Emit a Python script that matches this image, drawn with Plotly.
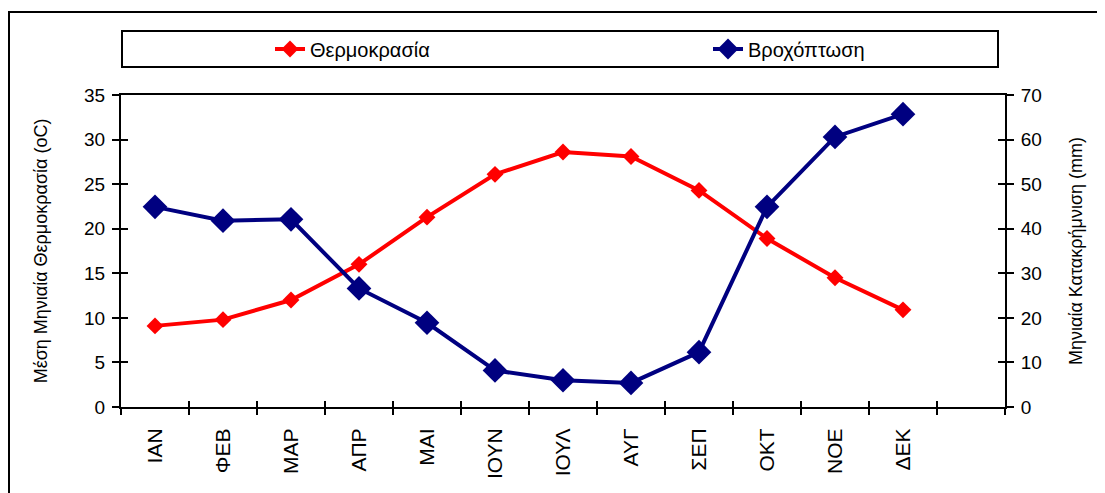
import plotly.graph_objects as go

months = ["ΙΑΝ", "ΦΕΒ", "ΜΑΡ", "ΑΠΡ", "ΜΑΙ", "ΙΟΥΝ", "ΙΟΥΛ", "ΑΥΓ", "ΣΕΠ", "ΟΚΤ", "ΝΟΕ", "ΔΕΚ"]
temperature = [9.1, 9.8, 12.0, 16.0, 21.3, 26.1, 28.6, 28.1, 24.3, 18.9, 14.5, 10.9]
rainfall = [44.9, 41.8, 42.1, 26.6, 18.9, 8.2, 6.0, 5.4, 12.3, 44.9, 60.6, 65.7]
temp_ticks = [0, 5, 10, 15, 20, 25, 30, 35]
rain_ticks = [0, 10, 20, 30, 40, 50, 60, 70]

FONT = "Liberation Sans, Arial, sans-serif"
# the page body adds an 8px offset, so positions below are screen px minus 8
OFF = 8
L, T = 121 - OFF, 95 - OFF
PW, PH = 884, 312
R, B = 1105 - L - PW, 493 - T - PH


def px_x(p):
    return (p - OFF - L) / PW


def px_y(p):
    return 1 + (T - (p - OFF)) / PH


x_idx = list(range(len(months)))
x_range = [-0.5, len(months) + 0.5]
boundaries = [i - 0.5 for i in range(len(months) + 2)]

fig = go.Figure()
fig.add_trace(go.Scatter(
    x=x_idx, y=temperature, name="Θερμοκρασία", mode="lines+markers",
    line=dict(color="#ff0000", width=4),
    marker=dict(symbol="diamond", size=13, color="#ff0000"),
    yaxis="y", legend="legend",
))
fig.add_trace(go.Scatter(
    x=x_idx, y=rainfall, name="Βροχόπτωση", mode="lines+markers",
    line=dict(color="#000080", width=4),
    marker=dict(symbol="diamond", size=19, color="#000080"),
    yaxis="y2", legend="legend2",
))

tick_font = dict(family=FONT, size=19, color="black")
tick_style = dict(tickwidth=2, tickcolor="black", showgrid=False, zeroline=False)
legend_style = dict(
    orientation="h", xanchor="left", y=px_y(49), yanchor="middle",
    font=dict(family=FONT, size=20, color="black"), bgcolor="rgba(0,0,0,0)",
    itemclick=False, itemdoubleclick=False,
)

fig.update_layout(
    width=1105, height=493,
    margin=dict(l=L, r=R, t=T, b=B, autoexpand=False),
    paper_bgcolor="white", plot_bgcolor="white",
    font=dict(family=FONT, size=18, color="black"),
    xaxis=dict(
        range=x_range, tickmode="array", tickvals=x_idx, ticktext=months,
        tickangle=-90, ticks="", tickfont=dict(family=FONT, size=21, color="black"),
        ticklabelstandoff=11, automargin=False,
        showline=True, linecolor="black", linewidth=2, mirror=True,
        showgrid=False, zeroline=False,
    ),
    xaxis2=dict(
        overlaying="x", range=x_range, tickmode="array", tickvals=boundaries,
        ticks="outside", ticklen=7, showticklabels=False, showline=False,
        **tick_style,
    ),
    xaxis3=dict(
        overlaying="x", range=x_range, tickmode="array", tickvals=boundaries,
        ticks="inside", ticklen=6, showticklabels=False, showline=False,
        **tick_style,
    ),
    yaxis=dict(
        range=[0, 35], tickmode="array", tickvals=temp_ticks,
        ticks="outside", ticklen=7, tickfont=tick_font, automargin=False,
        showline=True, linecolor="black", linewidth=2, ticklabelstandoff=3,
        title=dict(text="Μέση Μηνιαία Θερμοκρασία (oC)", font=dict(size=18), standoff=32),
        **tick_style,
    ),
    yaxis2=dict(
        range=[0, 70], tickmode="array", tickvals=rain_ticks, side="right",
        overlaying="y", anchor="x", automargin=False,
        ticks="outside", ticklen=7, tickfont=tick_font, ticklabelstandoff=3,
        showline=True, linecolor="black", linewidth=2,
        title=dict(text="Μηνιαία Κατακρήμνιση (mm)", font=dict(size=18), standoff=28),
        **tick_style,
    ),
    yaxis3=dict(
        range=[0, 35], tickmode="array", tickvals=temp_ticks, overlaying="y",
        ticks="inside", ticklen=7, showticklabels=False, showline=False,
        **tick_style,
    ),
    yaxis4=dict(
        range=[0, 70], tickmode="array", tickvals=rain_ticks, overlaying="y",
        side="right", ticks="inside", ticklen=7, showticklabels=False, showline=False,
        **tick_style,
    ),
    legend=dict(x=px_x(270), **legend_style),
    legend2=dict(x=px_x(708), **legend_style),
    shapes=[
        # legend box
        dict(type="rect", xref="paper", yref="paper",
             x0=px_x(122), x1=px_x(998), y0=px_y(67), y1=px_y(31),
             line=dict(color="black", width=2)),
        # outer chart frame (runs past the right and bottom edges)
        dict(type="rect", xref="paper", yref="paper",
             x0=px_x(9), x1=px_x(1130), y0=px_y(530), y1=px_y(12),
             line=dict(color="black", width=2)),
    ],
)

# empty traces so the overlay tick axes get drawn
for xa in ["x2", "x3"]:
    fig.add_trace(go.Scatter(x=[None], y=[None], xaxis=xa, showlegend=False, hoverinfo="skip"))
for ya in ["y3", "y4"]:
    fig.add_trace(go.Scatter(x=[None], y=[None], yaxis=ya, showlegend=False, hoverinfo="skip"))

fig.write_html("out.html")
